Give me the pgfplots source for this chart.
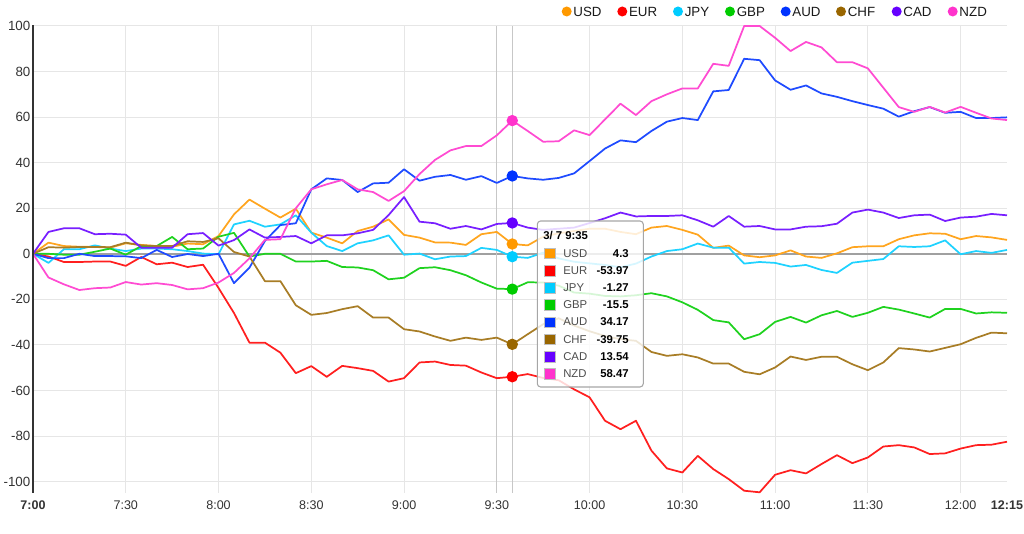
\documentclass[border=0pt]{standalone}
\usepackage{fontspec}
\setmainfont{Liberation Sans}
\usepackage{pgfplots}
\usepackage{pgfplotstable}
\pgfplotsset{compat=1.18}
\definecolor{usd}{HTML}{FF9900}
\definecolor{eur}{HTML}{FF0000}
\definecolor{jpy}{HTML}{00CCFF}
\definecolor{gbp}{HTML}{00CC00}
\definecolor{aud}{HTML}{0033FF}
\definecolor{chf}{HTML}{996600}
\definecolor{cad}{HTML}{6600FF}
\definecolor{nzd}{HTML}{FF33CC}
\definecolor{gridc}{HTML}{E6E6E6}
\definecolor{zeroc}{HTML}{A0A0A0}
\definecolor{txt}{HTML}{333333}

\pgfplotstableread{
t USD EUR JPY GBP AUD CHF CAD NZD
0 0 0 0 0 0 0 0 0
5 4.9 -1.2 -4.0 0 -1.9 2.9 9.6 -10.4
10 3.4 -3.6 2.0 -0.4 -1.9 2.7 11.2 -13.4
15 3.1 -3.6 2.0 -0.4 0 3.0 11.2 -15.9
20 3.0 -3.4 3.7 0.9 -1.0 3.0 8.6 -15.1
25 2.7 -3.4 2.3 2.3 -1.0 2.9 8.8 -14.8
30 4.6 -5.3 1.2 -0.4 -1.1 4.9 8.4 -12.4
35 3.9 -1.4 2.3 3.4 -1.9 3.7 2.7 -13.5
40 3.4 -4.6 2.3 3.4 1.7 3.4 2.7 -12.9
45 3.1 -3.9 2.0 7.4 -1.4 3.4 2.7 -13.7
50 4.5 -5.8 1.2 2.0 -0.1 5.5 8.6 -15.6
55 4.2 -4.8 0.1 2.3 -1.0 5.2 9.1 -15.1
60 7.8 -15.0 -0.2 7.5 0 6.8 3.6 -12.6
65 17.3 -26.0 12.9 9.2 -12.9 0.8 6.0 -8.4
70 23.8 -39.0 14.5 -1.2 -6.1 -1.2 10.7 -2.0
75 19.8 -39.0 11.9 0 5.6 -12.0 7.1 6.1
80 15.9 -43.4 12.9 0 12.6 -12.0 7.4 6.4
85 19.8 -52.4 16.9 -3.4 13.4 -22.6 7.8 20.0
90 9.3 -49.3 9.3 -3.4 28.3 -26.8 4.6 28.3
95 7.1 -54.0 3.4 -3.1 33.1 -26.0 8.1 30.5
100 4.6 -49.2 1.2 -5.8 32.4 -24.3 8.1 32.4
105 10.0 -50.2 4.6 -6.0 27.1 -23.0 9.0 28.3
110 11.9 -51.4 5.9 -7.2 30.9 -28.0 10.5 27.1
115 15.1 -56.1 8.1 -11.2 31.2 -28.0 17.0 23.2
120 8.3 -54.6 -0.4 -10.5 37.1 -33.1 24.9 27.5
125 7.1 -47.7 0.1 -6.3 32.1 -34.1 14.1 35.0
130 5.0 -47.3 -2.4 -5.9 33.8 -36.3 13.4 41.2
135 4.9 -48.8 -1.2 -7.2 34.6 -38.2 11.0 45.4
140 3.9 -49.1 -1.0 -9.4 32.5 -36.8 12.2 47.3
145 8.6 -52.1 2.6 -12.6 34.1 -37.8 10.7 47.3
150 9.6 -54.6 1.7 -15.3 31.1 -36.8 13.1 52.0
155 4.3 -53.97 -1.27 -15.5 34.17 -39.75 13.54 58.47
160 3.7 -52.8 -1.8 -12.5 33.1 -35.3 11.5 53.9
165 7.5 -54.5 0.5 -12.6 32.5 -30.9 10.5 49.2
170 9.0 -55.5 -2.0 -14.0 33.3 -28.3 11.0 49.4
175 10.0 -59.5 -3.5 -17.0 35.3 -31.5 11.5 54.2
180 11.0 -63.0 -4.2 -17.5 40.7 -34.0 13.5 52.1
185 11.0 -73.3 -4.9 -18.5 46.2 -36.1 15.6 59.0
190 9.6 -77.0 -5.9 -18.7 49.8 -37.5 18.1 65.9
195 8.6 -73.3 -4.3 -18.2 49.0 -38.2 16.4 60.9
200 11.5 -86.4 -1.2 -17.3 53.9 -43.1 16.6 67.0
205 12.2 -94.2 1.2 -18.7 58.0 -44.8 16.6 70.0
210 10.5 -96.0 2.0 -21.3 59.6 -44.1 16.9 72.6
215 8.4 -88.7 4.5 -24.6 58.7 -45.5 14.7 72.6
220 2.6 -94.5 2.7 -29.1 71.3 -48.2 11.9 83.4
225 3.6 -98.9 2.7 -30.1 71.9 -48.2 16.6 82.5
230 -0.7 -104.0 -4.3 -37.5 85.6 -51.8 11.9 100
235 -1.5 -104.7 -3.6 -35.3 85.0 -52.9 12.2 100
240 -0.7 -97.0 -4.0 -29.9 76.1 -49.9 10.7 94.8
245 1.5 -95.0 -5.6 -27.7 72.0 -45.1 10.7 89.0
250 -1.2 -96.4 -4.9 -30.2 73.9 -46.6 11.9 93.0
255 -1.8 -92.3 -7.1 -27.0 70.4 -45.2 12.1 90.6
260 0.2 -88.4 -8.4 -25.1 68.9 -45.2 13.2 84.1
265 2.9 -91.9 -3.9 -27.7 67.0 -48.5 18.1 84.1
270 3.3 -89.4 -3.1 -25.9 65.3 -51.1 19.4 81.4
275 3.3 -84.6 -2.3 -23.3 63.7 -47.7 18.1 72.9
280 6.4 -84.0 3.3 -24.5 60.2 -41.4 15.7 64.4
285 8.1 -85.0 3.0 -26.2 62.6 -42.0 16.9 62.3
290 9.0 -87.9 3.3 -28.0 64.4 -42.9 17.2 64.5
295 8.8 -87.6 5.9 -24.2 61.9 -41.3 14.4 62.0
300 6.4 -85.5 -0.2 -24.2 62.3 -39.7 15.9 64.5
305 7.8 -84.0 1.2 -26.2 59.6 -36.9 16.3 61.9
310 7.2 -83.8 0.4 -25.7 59.6 -34.6 17.5 59.4
315 6.1 -82.5 1.7 -25.9 59.9 -34.9 16.9 58.7
}\data

\begin{document}
\begin{tikzpicture}
\useasboundingbox (-24.75pt,-30.75pt) rectangle (743.25pt,369.75pt);
\begin{axis}[
  at={(0,0)}, anchor=south west, scale only axis,
  width=730.5pt, height=350.25pt,
  xmin=0, xmax=315, ymin=-105, ymax=100,
  clip=false,
  axis line style={draw=none},
  tick style={draw=none},
  xtick={0,30,...,300},
  xticklabels={\textbf{7:00},7:30,8:00,8:30,9:00,9:30,10:00,10:30,11:00,11:30,12:00},
  extra x ticks={315},
  extra x tick labels={\textbf{12:15}},
  extra x tick style={grid=none},
  ytick={-100,-80,...,100},
  yticklabels={-100,-80,-60,-40,-20,0,20,40,60,80,100},
  grid=major,
  major grid style={color=gridc, line width=0.75pt},
  xticklabel style={anchor=north, inner sep=0pt, yshift=-5.5pt, text=txt, font=\fontsize{9.4}{10}\selectfont},
  yticklabel style={anchor=east, inner sep=0pt, xshift=-1.8pt, text=txt, font=\fontsize{10}{11}\selectfont},
  /pgf/number format/assume math mode=true,
  every axis plot/.append style={line width=1.3pt, line join=round, no marks},
]
\draw[zeroc, line width=1.1pt] (axis cs:0,0) -- (axis cs:315,0);
\draw[black!22, line width=0.8pt] (axis cs:150,-105) -- (axis cs:150,100);
\draw[black!22, line width=0.8pt] (axis cs:155,-105) -- (axis cs:155,100);
\addplot[usd!88] table[x=t, y=USD] {\data};
\addplot[eur!88] table[x=t, y=EUR] {\data};
\addplot[jpy!88] table[x=t, y=JPY] {\data};
\addplot[gbp!88] table[x=t, y=GBP] {\data};
\addplot[aud!88] table[x=t, y=AUD] {\data};
\addplot[chf!85] table[x=t, y=CHF] {\data};
\addplot[cad!88] table[x=t, y=CAD] {\data};
\addplot[nzd!88] table[x=t, y=NZD] {\data};
\addplot[usd, only marks, mark=*, mark size=3.6pt] coordinates {(155,4.3)};
\addplot[eur, only marks, mark=*, mark size=3.6pt] coordinates {(155,-53.97)};
\addplot[jpy, only marks, mark=*, mark size=3.6pt] coordinates {(155,-1.27)};
\addplot[gbp, only marks, mark=*, mark size=3.6pt] coordinates {(155,-15.5)};
\addplot[aud, only marks, mark=*, mark size=3.6pt] coordinates {(155,34.17)};
\addplot[chf, only marks, mark=*, mark size=3.6pt] coordinates {(155,-39.75)};
\addplot[cad, only marks, mark=*, mark size=3.6pt] coordinates {(155,13.54)};
\addplot[nzd, only marks, mark=*, mark size=3.6pt] coordinates {(155,58.47)};
\draw[txt, line width=1.4pt] (axis cs:0,-105) -- (axis cs:0,100.3);
\end{axis}
\begin{scope}[x=0.75pt, y=-0.75pt, shift={(-24.75pt,369.75pt)}]
  % legend
  \foreach \c/\n/\xx in {usd/USD/566.7, eur/EUR/622.3, jpy/JPY/678, gbp/GBP/730, aud/AUD/785.7, chf/CHF/841, cad/CAD/896.7, nzd/NZD/952.7} {
    \fill[\c] (\xx,11.5) circle (5);
    \node[anchor=west, inner sep=0pt, text=black!90, font=\fontsize{10}{11}\selectfont] at (\xx+6.5,11.5) {\n};
  }
  % tooltip
  \draw[rounded corners=2.5pt, draw=black!35, fill=white, fill opacity=0.82, line width=0.8pt] (537.3,221) rectangle (643.3,387);
  \node[anchor=west, inner sep=0pt, text=black, font=\bfseries\fontsize{8.5}{10}\selectfont] at (543,236) {3/ 7 9:35};
  \foreach \c/\n/\v [count=\i from 0] in {usd/USD/4.3, eur/EUR/-53.97, jpy/JPY/-1.27, gbp/GBP/-15.5, aud/AUD/34.17, chf/CHF/-39.75, cad/CAD/13.54, nzd/NZD/58.47} {
    \pgfmathsetmacro{\yy}{253.3+17.2*\i}
    \fill[\c, draw=black!25, line width=0.4pt] (544,\yy-5.3) rectangle (555,\yy+5.3);
    \node[anchor=west, inner sep=0pt, text=black!70, font=\fontsize{8.5}{10}\selectfont] at (563,\yy) {\n};
    \node[anchor=east, inner sep=0pt, text=black, font=\bfseries\fontsize{8.5}{10}\selectfont] at (629,\yy) {\v};
  }
\end{scope}
\end{tikzpicture}
\end{document}
